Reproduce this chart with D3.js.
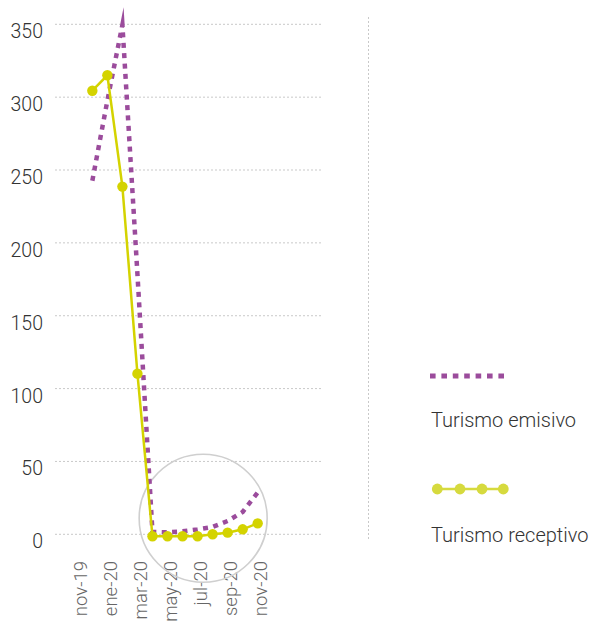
<!DOCTYPE html>
<html><head><meta charset="utf-8">
<script src="https://cdn.jsdelivr.net/npm/d3@7"></script>
<style>
body{margin:0;background:#fff}
svg{display:block}
text{font-family:Roboto,"Open Sans",sans-serif;font-weight:300}
</style>
</head><body><svg id="c" width="589" height="622"></svg>
<script>
const months = ["nov-19","dic-19","ene-20","feb-20","mar-20","abr-20","may-20","jun-20","jul-20","ago-20","sep-20","oct-20","nov-20"];
const tickLabels = ["nov-19","ene-20","mar-20","may-20","jul-20","sep-20","nov-20"];
const yTicks = [0,50,100,150,200,250,300,350];
const emisivo = [null,244,299,351,180,3,2.7,3.4,4.7,6.4,10.5,16.7,30];
const receptivo = [null,305.8,316.4,240,111.6,0,0,0,0,1.4,2.5,4.8,8.9];
const seriesNames = ["Turismo emisivo","Turismo receptivo"];

const svg = d3.select("#c");
const x = d3.scalePoint().domain(months).range([77.3, 257.7]);
const y = d3.scaleLinear().domain([0, 350]).range([536.3, 26.3]);

const purple = "#9b4c9c", yellow = "#d4d300", yellowLeg = "#d6da3e";

// gridlines
const grid = svg.append("g").attr("transform","translate(0,-2)");
grid.selectAll("line").data(yTicks).join("line")
  .attr("x1",55).attr("x2",323)
  .attr("y1",d=>y(d)).attr("y2",d=>y(d))
  .attr("stroke","#c9c9c9").attr("stroke-width",1).attr("stroke-dasharray","2,2");
grid.selectAll("text").data(yTicks).join("text")
  .attr("x",43).attr("y",d=>y(d)+14)
  .attr("text-anchor","end").attr("fill","#333").attr("font-size",19.5)
  .text(d=>d);

// separator
svg.append("line").attr("x1",368.5).attr("x2",368.5).attr("y1",17).attr("y2",540)
  .attr("stroke","#c9c9c9").attr("stroke-width",1).attr("stroke-dasharray","2,2");

// x labels
svg.append("g").selectAll("text").data(tickLabels).join("text")
  .attr("transform",d=>`translate(${x(d)},561) rotate(-90)`)
  .attr("dy","0.5em").attr("text-anchor","end")
  .attr("fill","#666").attr("font-size",18.5).text(d=>d);

// annotation circle
svg.append("circle").attr("cx",x("jul-20")+5.6).attr("cy",y(12.4)).attr("r",64)
  .attr("fill","none").attr("stroke","#cfcfcf").attr("stroke-width",1.6);

const idx = months.map((m,i)=>i);
const line = vals => d3.line().defined(i=>vals[i]!=null).x(i=>x(months[i])).y(i=>y(vals[i]))(idx);

svg.append("path").attr("d",line(emisivo)).attr("fill","none")
  .attr("stroke",purple).attr("stroke-width",4.5).attr("stroke-dasharray","5,5.4")
  .attr("stroke-linejoin","miter").attr("stroke-miterlimit",10);

svg.append("path").attr("d",line(receptivo)).attr("fill","none")
  .attr("stroke",yellow).attr("stroke-width",2.5);
svg.append("g").selectAll("circle").data(idx.filter(i=>receptivo[i]!=null)).join("circle")
  .attr("cx",i=>x(months[i])).attr("cy",i=>y(receptivo[i])).attr("r",5.2).attr("fill",yellow);

// legend
const leg = svg.append("g");
leg.append("line").attr("x1",430).attr("x2",506).attr("y1",376).attr("y2",376)
  .attr("stroke",purple).attr("stroke-width",5).attr("stroke-dasharray","5.6,5.8");
leg.append("text").attr("x",431).attr("y",427).attr("fill","#333").attr("font-size",20).text(seriesNames[0]);
leg.append("line").attr("x1",437).attr("x2",504).attr("y1",489).attr("y2",489)
  .attr("stroke",yellowLeg).attr("stroke-width",2.5);
leg.selectAll("circle").data([437.3,460,482,503.3]).join("circle")
  .attr("cx",d=>d).attr("cy",489).attr("r",5.4).attr("fill",yellowLeg);
leg.append("text").attr("x",431).attr("y",542).attr("fill","#333").attr("font-size",20).text(seriesNames[1]);
</script>
</body></html>
